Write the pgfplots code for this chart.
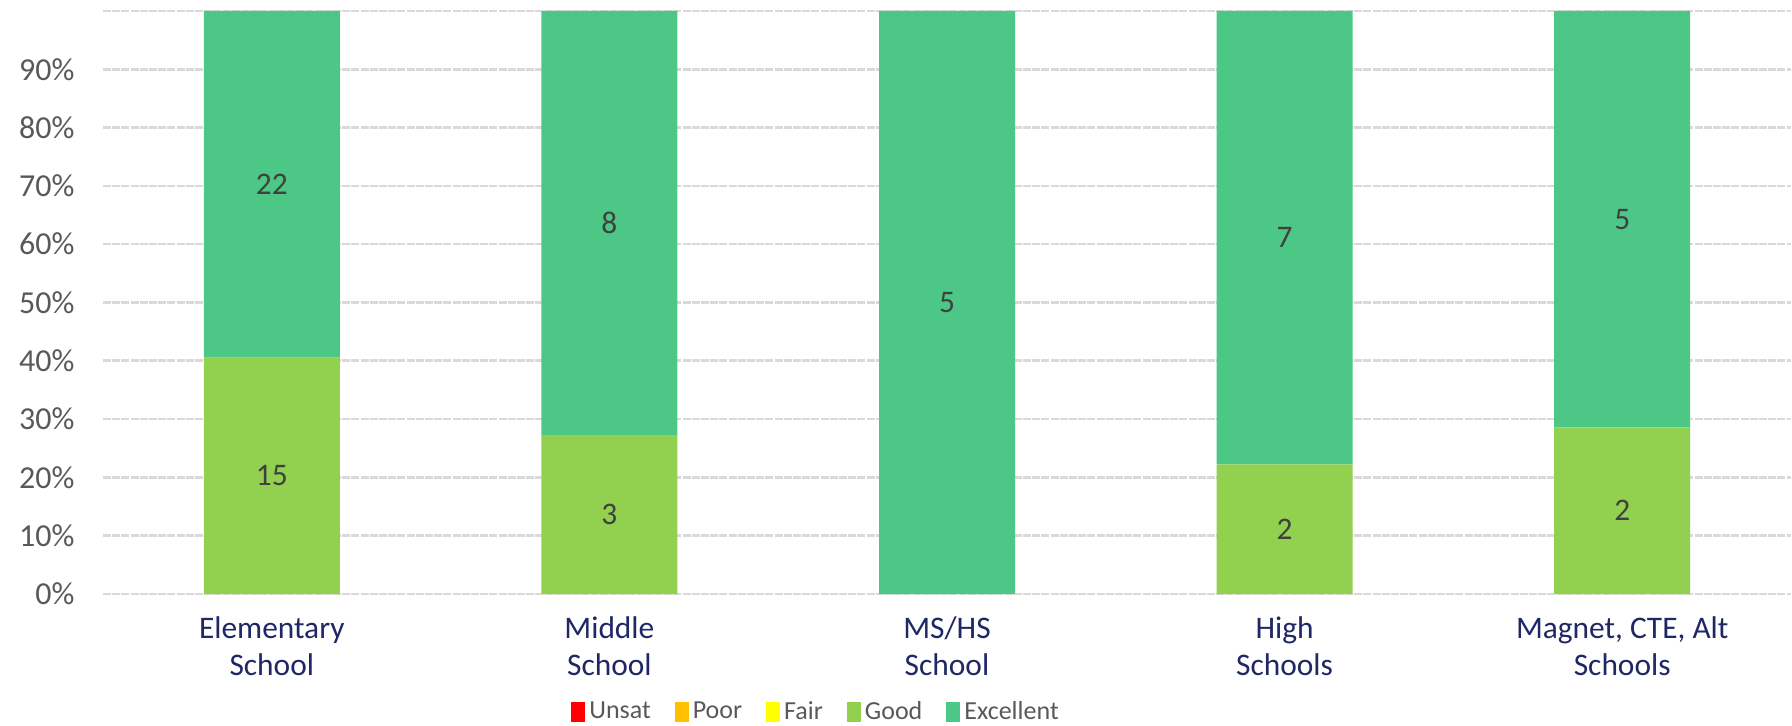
\documentclass[border=0pt]{standalone}
\usepackage{fontspec}
\setmainfont{Carlito}
\usepackage{pgfplots}
\pgfplotsset{compat=1.18}
\definecolor{cUnsat}{RGB}{255,0,0}
\definecolor{cPoor}{RGB}{255,192,0}
\definecolor{cFair}{RGB}{255,255,0}
\definecolor{cGood}{RGB}{146,208,80}
\definecolor{cExc}{RGB}{76,199,133}
\definecolor{cNavy}{RGB}{31,39,100}
\definecolor{cTick}{RGB}{89,89,89}
\definecolor{cLab}{RGB}{64,64,64}
\definecolor{cGrid}{RGB}{217,217,217}
\begin{document}
\begin{tikzpicture}
\useasboundingbox (0,0) rectangle (896pt,-363pt);
\begin{axis}[
  at={(51.5pt,-297pt)}, anchor=south west,
  scale only axis, width=844pt, height=291.5pt,
  ybar stacked, bar width=68pt,
  xmin=-0.5, xmax=4.5, ymin=0, ymax=100,
  xtick={0,1,2,3,4},
  xticklabels={Elementary\\School, Middle\\School, MS/HS\\School, High\\Schools, {Magnet, CTE, Alt\\Schools}},
  xticklabel style={align=center, text=cNavy, font=\fontsize{15.7}{18.5}\selectfont, yshift=-8pt},
  ytick={0,10,...,90},
  extra y ticks={100}, extra y tick labels={},
  yticklabel={\pgfmathprintnumber{\tick}\%},
  yticklabel style={text=cTick, font=\fontsize{16}{19}\selectfont, xshift=-10.75pt},
  /pgf/number format/assume math mode=true,
  major tick length=0pt,
  axis line style={draw=none},
  ymajorgrids,
  major grid style={cGrid, line width=1.3pt, dash pattern=on 4pt off 0.6pt},
  every extra y tick/.style={major grid style={cGrid, line width=1.3pt, dash pattern=on 4pt off 0.6pt}},
  legend columns=-1,
  legend style={at={(0.423,-0.2024)}, anchor=center, draw=none, fill=none,
    font=\fontsize{13}{15}\selectfont, text=cTick,
    /tikz/every even column/.append style={column sep=10pt},
    inner sep=0pt},
  legend image code/.code={\fill[#1,draw=none] (0pt,-5pt) rectangle (7pt,5pt);},
  every node near coord/.append style={anchor=center, text=cLab,
    font=\fontsize{15.7}{18}\selectfont},
  point meta=explicit symbolic,
]
\addplot[fill=cUnsat, draw=none] coordinates {(0,0) (1,0) (2,0) (3,0) (4,0)};
\addplot[fill=cPoor, draw=none] coordinates {(0,0) (1,0) (2,0) (3,0) (4,0)};
\addplot[fill=cFair, draw=none] coordinates {(0,0) (1,0) (2,0) (3,0) (4,0)};
\addplot[fill=cGood, draw=none, nodes near coords] coordinates {
 (0,40.54) [15] (1,27.27) [3] (2,0) [\relax] (3,22.22) [2] (4,28.57) [2]};
\addplot[fill=cExc, draw=none, nodes near coords] coordinates {
 (0,59.46) [22] (1,72.73) [8] (2,100) [5] (3,77.78) [7] (4,71.43) [5]};
\legend{Unsat, Poor, Fair, Good, Excellent}
\end{axis}
\end{tikzpicture}
\end{document}
